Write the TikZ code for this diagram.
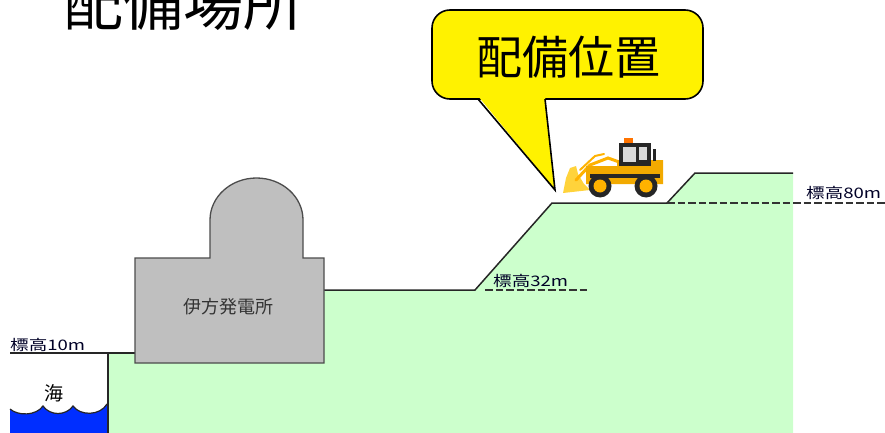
\documentclass[tikz,border=0pt]{standalone}
\usepackage{fontspec}
\usepackage{graphicx}
\setmainfont{Noto Sans CJK JP}
\newfontfamily\jpfont{Noto Sans CJK JP}
\newcommand{\widelabel}[1]{\scalebox{1.28}[1]{#1}}
\begin{document}
\begin{tikzpicture}[x=1pt,y=-1pt,
  groundline/.style={draw=black!85, line width=1.5pt},
  levelline/.style={draw=black!80, line width=1.5pt, dash pattern=on 7.5pt off 3pt},
  levellabel/.style={font=\jpfont\fontsize{14.5}{14.5}\selectfont, text=black!85!blue, inner sep=0pt},
  calloutbox/.style={fill=yellow, draw=black, line width=1.6pt, rounded corners=18pt},
  loaderbody/.style={fill=orange!60!yellow!95!black, draw=none}]
\useasboundingbox (0,0) rectangle (885,433);

% title
\node[anchor=base west, inner sep=0pt, font=\jpfont\fontsize{60}{60}\selectfont] (title) at (63,26) {配備場所};

% sea
\fill[blue!70!cyan!60!blue] (10,433) -- (10,409)
  .. controls (18,416) and (36,416) .. (43,406)
  .. controls (50,416) and (66,416) .. (73,406)
  .. controls (80,416) and (100,416) .. (107,404) -- (107,433) -- cycle;
\draw[black!85, line width=1.2pt] (10,409)
  .. controls (18,416) and (36,416) .. (43,406)
  .. controls (50,416) and (66,416) .. (73,406)
  .. controls (80,416) and (100,416) .. (107,404);
\node[font=\jpfont\fontsize{19}{19}\selectfont, inner sep=0pt] (sea) at (54,393) {海};

% ground
\fill[green!20] (108,433) -- (108,353) -- (324,353) -- (324,290) -- (475,290)
  -- (552,203) -- (667,203) -- (695,173) -- (793,173) -- (793,433) -- cycle;
\draw[groundline] (108,433) -- (108,353) -- (136,353);
\draw[groundline] (324,290) -- (475,290) -- (552,203) -- (667,203) -- (695,173) -- (793,173);

% power station building
\draw[fill=black!25, draw=black!70, line width=1.3pt]
  (135,363) -- (135,258) -- (210,258) -- (210,220)
  arc[start angle=180, end angle=0, x radius=46.5pt, y radius=42pt]
  -- (303,258) -- (324,258) -- (324,363) -- cycle;
\node[font=\jpfont\fontsize{18}{18}\selectfont, text=black!80, inner sep=0pt] (plant) at (228,307) {伊方発電所};

% elevation marks
\draw[black!85, line width=1.3pt] (10,353) -- (108,353);
\node[levellabel, anchor=base west] (lv10) at (10,350) {\widelabel{標高10m}};
\node[levellabel, anchor=base west] (lv32) at (493,286) {\widelabel{標高32m}};
\draw[levelline] (485,290) -- (590,290);
\node[levellabel, anchor=base west] (lv80) at (806,198) {\widelabel{標高80m}};
\draw[levelline] (667,203) -- (885,203);

% callout
\draw[calloutbox] (432,10) rectangle (703,99);
\fill[yellow] (478,96) -- (555,190) -- (545,96) -- cycle;
\draw[black, line width=1.6pt, line join=miter] (478,99) -- (555,190) -- (545,99);
\node[font=\jpfont\fontsize{46}{46}\selectfont, inner sep=0pt] (place) at (568,57) {配備位置};

% wheel loader
\fill[orange!45!yellow!90!white, opacity=0.85]
  (563,193) -- (566,178) -- (570,168) -- (576,166) -- (578,174) -- (584,184) -- (590,190) -- cycle;
\draw[orange!60!yellow, line width=3pt, line cap=round] (576,180) -- (590,165) -- (608,158) -- (622,163);
\draw[orange!60!yellow, line width=2pt, line cap=round] (580,170) -- (595,156) -- (604,154);
\fill[loaderbody] (586,166) -- (617,166) -- (617,160) -- (663,160) -- (663,184) -- (586,184) -- cycle;
\fill[black!85] (590,174) -- (660,174) -- (660,178) -- (590,178) -- cycle;
\fill[black!85] (619,143) rectangle (651,166);
\fill[black!15] (623,147) rectangle (636,162);
\fill[black!15] (639,147) rectangle (647,160);
\fill[orange!90!red] (624,138) rectangle (633,143);
\fill[black!85] (653,149) rectangle (656,161);
\fill[loaderbody] (586,166) -- (617,166) -- (617,172) -- (586,172) -- cycle;
\fill[black!85] (600,186) circle[radius=11.5pt];
\fill[orange!60!yellow] (600,186) circle[radius=6.5pt];
\fill[black!85] (646,186) circle[radius=11.5pt];
\fill[orange!60!yellow] (646,186) circle[radius=6.5pt];
\end{tikzpicture}
\end{document}
